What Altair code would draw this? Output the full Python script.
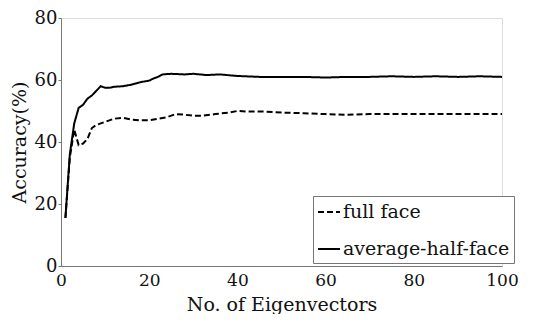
import altair as alt
import pandas as pd

full_x = [1, 2, 3, 4, 5, 6, 7, 8, 9, 10, 12, 14, 16, 18, 20, 22, 24, 26, 28, 30, 32, 35, 38, 40, 43, 46, 50, 55, 60, 65, 70, 75, 80, 85, 90, 95, 100]
full_y = [15.5, 35, 44, 39, 39.5, 41, 44.5, 45.5, 46, 46.5, 47.5, 47.8, 47.2, 47, 47, 47.5, 48, 49, 48.8, 48.5, 48.5, 49, 49.5, 50, 49.8, 49.8, 49.5, 49.3, 49, 48.8, 49, 49, 49, 49, 49, 49, 49]

half_x = [1, 2, 3, 4, 5, 6, 7, 8, 9, 10, 11, 12, 14, 16, 18, 20, 21, 22, 23, 25, 28, 30, 33, 36, 40, 45, 50, 55, 60, 65, 70, 75, 80, 85, 90, 95, 100]
half_y = [15.5, 36, 46, 51, 52, 54, 55, 56.5, 58, 57.5, 57.5, 57.8, 58, 58.5, 59.3, 59.8, 60.5, 61, 61.8, 62, 61.8, 62, 61.6, 61.8, 61.3, 61, 61, 61, 60.8, 61, 61, 61.2, 61, 61.2, 61, 61.2, 61]

series = ["full face", "average-half-face"]

df = pd.concat([
    pd.DataFrame({"x": full_x, "y": full_y, "s": series[0]}),
    pd.DataFrame({"x": half_x, "y": half_y, "s": series[1]}),
])

FONT = "DejaVu Serif"

chart = alt.Chart(df).mark_line(strokeWidth=2, color="black").encode(
    x=alt.X("x:Q", scale=alt.Scale(domain=[0, 100], nice=False),
            axis=alt.Axis(title="No. of Eigenvectors", values=[0, 20, 40, 60, 80, 100],
                          grid=False, tickSize=0, labelPadding=6, titlePadding=7,
                          labelFont=FONT, titleFont=FONT, labelFontSize=17, titleFontSize=19,
                          titleFontWeight="normal", labelColor="#111", titleColor="#111",
                          domainColor="#777", labelFlush=False)),
    y=alt.Y("y:Q", scale=alt.Scale(domain=[0, 80], nice=False),
            axis=alt.Axis(title="Accuracy(%)", values=[0, 20, 40, 60, 80],
                          grid=False, tickSize=3, tickColor="#777", labelPadding=1, titlePadding=5,
                          labelFont=FONT, titleFont=FONT, labelFontSize=18, titleFontSize=19,
                          titleFontWeight="normal", labelColor="#111", titleColor="#111",
                          domainColor="#777")),
    strokeDash=alt.StrokeDash("s:N", scale=alt.Scale(domain=series, range=[[6, 3], [1, 0]]),
                              legend=alt.Legend(title=None, orient="none", legendX=252, legendY=178,
                                                labelFont=FONT, labelFontSize=19, labelColor="#111",
                                                labelLimit=400,
                                                symbolType="stroke", symbolSize=484,
                                                symbolStrokeColor="black", symbolStrokeWidth=2,
                                                strokeColor="#777", fillColor="white",
                                                padding=4, rowPadding=15, labelOffset=2)),
    detail="s:N",
).properties(
    width=441, height=248,
    autosize=alt.AutoSizeParams(type="none"),
    padding={"left": 53, "top": 10, "right": 24, "bottom": 48},
).configure_view(stroke=None).configure(background="white")

chart.save("out.html", embed_options={"renderer": "svg", "actions": False})
